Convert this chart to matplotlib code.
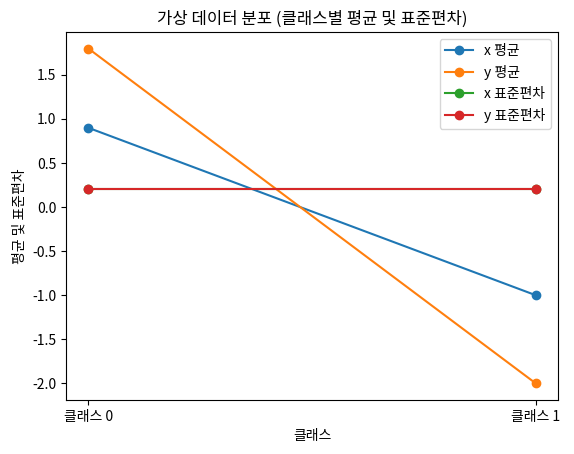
import matplotlib
matplotlib.use("Agg")
import matplotlib.pyplot as plt

plt.rcParams['font.family'] = ['Noto Sans CJK KR', 'DejaVu Sans']
plt.rcParams['axes.unicode_minus'] = False

classes = ['클래스 0', '클래스 1']
x_mean = [0.9, -1.0]
y_mean = [1.8, -2.0]
x_std = [0.2, 0.2]
y_std = [0.2, 0.2]

fig, ax = plt.subplots(figsize=(5.74, 4.54), dpi=100)
fig.subplots_adjust(left=0.115, right=0.972, top=0.93, bottom=0.119)
ax.plot(classes, x_mean, marker='o', label='x 평균')
ax.plot(classes, y_mean, marker='o', label='y 평균')
ax.plot(classes, x_std, marker='o', label='x 표준편차')
ax.plot(classes, y_std, marker='o', label='y 표준편차')
ax.set_title('가상 데이터 분포 (클래스별 평균 및 표준편차)')
ax.set_xlabel('클래스')
ax.set_ylabel('평균 및 표준편차')
ax.legend(loc='upper right')
fig.savefig('out.png', dpi=100)
